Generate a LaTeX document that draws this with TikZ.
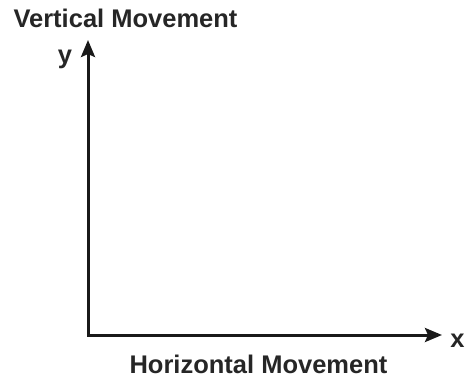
\documentclass[tikz,border=0pt]{standalone}
\usepackage{fontspec}
\setmainfont{Liberation Sans}
\usepackage{tikz}
\usetikzlibrary{arrows.meta, positioning}

\begin{document}
\begin{tikzpicture}[
  x=1pt, y=-1pt,
  every node/.style={font=\fontsize{25.5}{28}\selectfont\bfseries, text=black!85, inner sep=0pt, anchor=base},
  axis/.style={line width=3pt, color=black!90, line join=miter, {Stealth[length=17pt, width=14pt, inset=3pt]}-{Stealth[length=17pt, width=14pt, inset=3pt]}}
]
  \useasboundingbox (0,0) rectangle (467,381);

  % Assi
  \coordinate (orig) at (88,335);
  \coordinate (ytip) at (88,40);
  \coordinate (xtip) at (442,335);
  \draw[axis] (ytip) -- (orig) -- (xtip);

  % Etichette
  \node (vert) at (125.5,27) {Vertical Movement};
  \node (ylab) at (65,63) {y};
  \node (xlab) at (457.5,347) {x};
  \node (horiz) at (258.5,373) {Horizontal Movement};

\end{tikzpicture}
\end{document}
